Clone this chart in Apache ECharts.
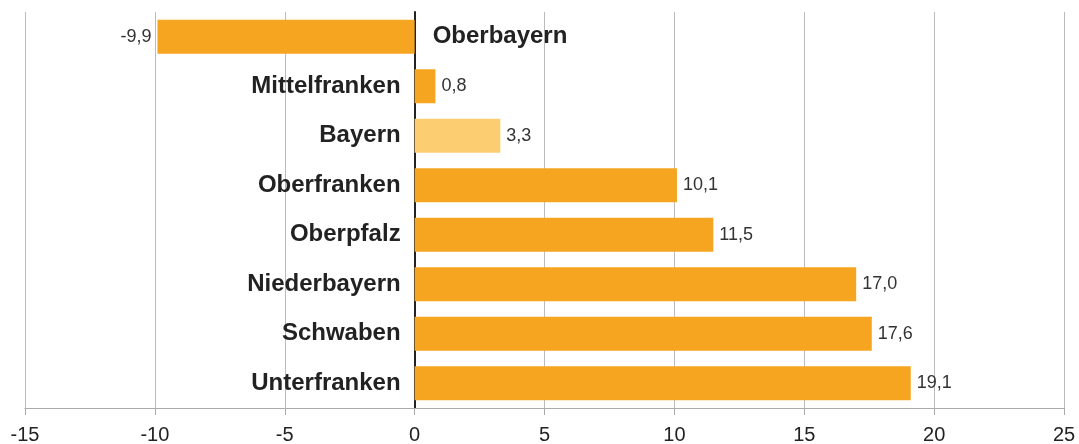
<!DOCTYPE html>
<html>
<head>
<meta charset="utf-8">
<script src="https://cdn.jsdelivr.net/npm/echarts@6/dist/echarts.min.js"></script>
<style>
  html, body { margin: 0; padding: 0; background: #fff; }
  #chart { width: 1079px; height: 444px; }
</style>
</head>
<body>
<div id="chart"></div>
<script>
const regions = ['Oberbayern', 'Mittelfranken', 'Bayern', 'Oberfranken', 'Oberpfalz', 'Niederbayern', 'Schwaben', 'Unterfranken'];
const changes = [-9.9, 0.8, 3.3, 10.1, 11.5, 17.0, 17.6, 19.1];
const xTicks = [-15, -10, -5, 0, 5, 10, 15, 20, 25];

const barColor = '#F6A520';
const totalColor = '#FDCD72';
const fontFamily = "'Liberation Sans', Arial, sans-serif";

const chart = echarts.init(document.getElementById('chart'));

const fmt = v => v.toFixed(1).replace('.', ',');

chart.setOption({
  animation: false,
  grid: { left: 25, right: 15, top: 12, bottom: 36, outerBoundsMode: 'none' },
  xAxis: {
    type: 'value',
    min: xTicks[0],
    max: xTicks[xTicks.length - 1],
    interval: 5,
    axisLine: { show: true, lineStyle: { color: '#aaa', width: 1 } },
    axisTick: { show: true, length: 7, lineStyle: { color: '#aaa' } },
    splitLine: { show: true, lineStyle: { color: '#bbb', width: 1 } },
    axisLabel: { color: '#222', fontSize: 20, fontFamily: fontFamily, margin: 17 }
  },
  yAxis: {
    type: 'category',
    data: regions,
    inverse: true,
    axisLine: { show: true, onZero: true, lineStyle: { color: '#222', width: 2 } },
    axisTick: { show: false },
    axisLabel: { show: false }
  },
  series: [
    {
      type: 'bar',
      barWidth: 34,
      data: changes.map((v, i) => ({
        value: v,
        itemStyle: { color: regions[i] === 'Bayern' ? totalColor : barColor },
        label: { position: v < 0 ? 'left' : 'right' }
      })),
      label: {
        show: true,
        distance: 6,
        color: '#333',
        fontSize: 18,
        fontFamily: fontFamily,
        formatter: p => fmt(p.value)
      },
      z: 2
    },
    {
      // helper series for the region names beside the zero line
      type: 'bar',
      barWidth: 34,
      barGap: '-100%',
      silent: true,
      itemStyle: { color: 'transparent' },
      data: changes.map(v => ({
        value: 0,
        label: { position: v < 0 ? 'right' : 'left', distance: v < 0 ? 18 : 14 }
      })),
      label: {
        show: true,
        color: '#222',
        fontSize: 24,
        fontWeight: 'bold',
        fontFamily: fontFamily,
        formatter: p => regions[p.dataIndex]
      },
      z: 3
    }
  ]
});

window.addEventListener('resize', () => chart.resize());
</script>
</body>
</html>
